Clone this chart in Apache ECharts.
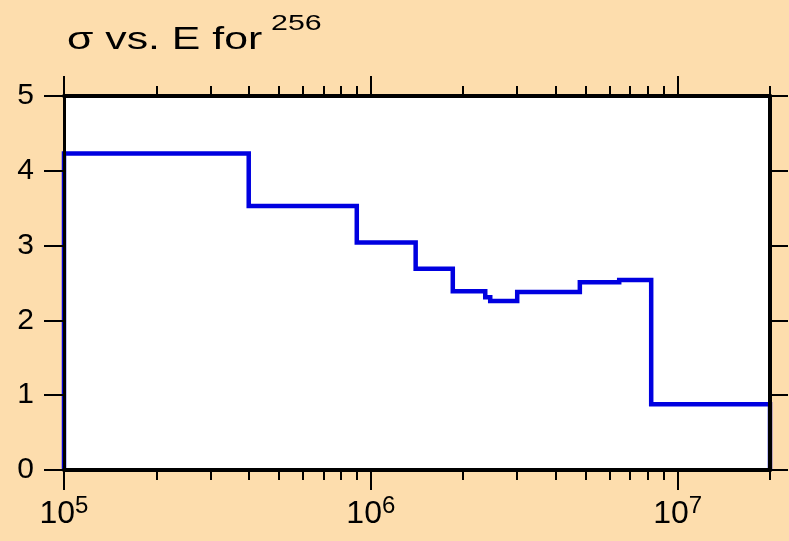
<!DOCTYPE html>
<html>
<head>
<meta charset="utf-8">
<script src="https://cdn.jsdelivr.net/npm/echarts@6/dist/echarts.min.js"></script>
<style>
html,body{margin:0;padding:0;background:#FDDDAD;}
#chart{width:789px;height:541px;}
</style>
</head>
<body>
<div id="chart"></div>
<script>
// Bin edges (energy) and cross-section values per bin
const binEdges = [1e5, 4.0e5, 9.0e5, 1.4e6, 1.85e6, 2.36e6, 2.45e6, 3.0e6, 4.8e6, 6.45e6, 8.2e6, 2e7];
const binValues = [4.23, 3.53, 3.04, 2.69, 2.39, 2.31, 2.26, 2.38, 2.51, 2.54, 0.88];

// Axis ticks
const xMajorTicks = [1e5, 1e6, 1e7];
const xMajorExponents = ['5', '6', '7'];
const xMinorTicks = [2e5,3e5,4e5,5e5,6e5,7e5,8e5,9e5,2e6,3e6,4e6,5e6,6e6,7e6,8e6,9e6,2e7];
const yTicks = [0, 1, 2, 3, 4, 5];

const titleMain = 'σ vs. E for';
const titleSup = '256';

// Build step path from bins
const stepData = [[binEdges[0], 0]];
for (let i = 0; i < binValues.length; i++) {
  stepData.push([binEdges[i], binValues[i]]);
  stepData.push([binEdges[i + 1], binValues[i]]);
}
stepData.push([binEdges[binEdges.length - 1], 0]);

const FONT = 'Liberation Sans, Arial, Helvetica, sans-serif';
const xMin = binEdges[0], xMax = binEdges[binEdges.length - 1];

function xAxisDef(pos, ticks, len, withLine, withLabel) {
  return {
    type: 'log', logBase: 10, min: xMin, max: xMax, position: pos, gridIndex: 0,
    z: 5,
    axisLine: { show: withLine, onZero: false, lineStyle: { color: '#000', width: 4 } },
    axisTick: { show: true, customValues: ticks, length: len, lineStyle: { color: '#000', width: 2 } },
    axisLabel: withLabel ? {
      show: true, customValues: xMajorTicks, margin: 24, fontFamily: FONT,
      formatter: function (v) {
        const idx = xMajorTicks.findIndex(t => Math.abs(t - v) / t < 1e-6);
        return '{b|10}{s|' + (idx >= 0 ? xMajorExponents[idx] : '') + '}';
      },
      rich: {
        b: { fontSize: 32, color: '#000', fontFamily: FONT, verticalAlign: 'bottom', lineHeight: 36 },
        s: { fontSize: 24, color: '#000', fontFamily: FONT, verticalAlign: 'top', lineHeight: 36, padding: [0, 0, 16, 0] }
      }
    } : { show: false },
    splitLine: { show: false },
    minorTick: { show: false }
  };
}

const chart = echarts.init(document.getElementById('chart'), null, { renderer: 'canvas' });
chart.setOption({
  backgroundColor: '#FDDDAD',
  animation: false,
  graphic: [
    {
      type: 'text', x: 67, y: 25, scaleX: 1.38, scaleY: 1,
      style: { text: titleMain, fontSize: 31, fontFamily: FONT, fontWeight: 'normal', fill: '#000',
        align: 'left', verticalAlign: 'top' }
    },
    {
      type: 'text', x: 271, y: 13, scaleX: 1.38, scaleY: 1,
      style: { text: titleSup, fontSize: 22, fontFamily: FONT, fontWeight: 'normal', fill: '#000',
        align: 'left', verticalAlign: 'top' }
    }
  ],
  grid: {
    left: 64, right: 19, top: 96, bottom: 71,
    show: true, backgroundColor: '#fff', borderColor: '#999', borderWidth: 1
  },
  xAxis: [
    xAxisDef('bottom', xMajorTicks, 20, true, true),
    xAxisDef('bottom', xMinorTicks, 10, false, false),
    xAxisDef('top', xMajorTicks, 20, true, false),
    xAxisDef('top', xMinorTicks, 10, false, false)
  ],
  yAxis: [
    {
      type: 'value', min: 0, max: 5, interval: 1, position: 'left', z: 5,
      axisLine: { show: true, onZero: false, lineStyle: { color: '#000', width: 3 } },
      axisTick: { show: true, length: 20, lineStyle: { color: '#000', width: 2 } },
      axisLabel: { show: true, fontSize: 30, color: '#000', fontFamily: FONT, margin: 30,
        formatter: v => String(yTicks[yTicks.indexOf(v)]) },
      splitLine: { show: false }
    },
    {
      type: 'value', min: 0, max: 5, interval: 1, position: 'right', z: 5,
      axisLine: { show: true, onZero: false, lineStyle: { color: '#000', width: 4 } },
      axisTick: { show: true, length: 18, lineStyle: { color: '#000', width: 2 } },
      axisLabel: { show: false },
      splitLine: { show: false }
    }
  ],
  series: [{
    type: 'line',
    xAxisIndex: 0, yAxisIndex: 0,
    data: stepData,
    showSymbol: false,
    symbol: 'none',
    clip: false,
    z: 2,
    lineStyle: { color: '#0000E0', width: 4.5, join: 'miter', cap: 'butt' }
  }]
});
</script>
</body>
</html>
